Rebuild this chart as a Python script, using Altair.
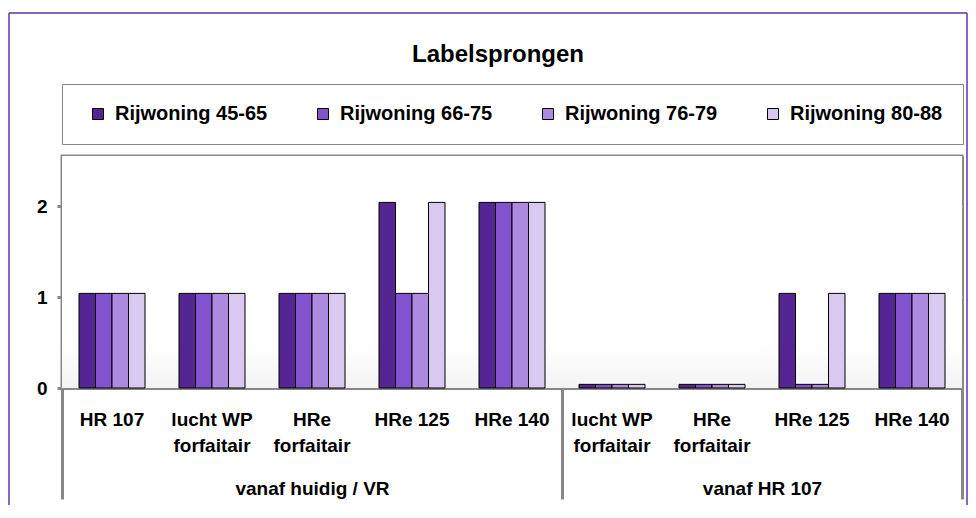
import altair as alt
import pandas as pd

chart_title = "Labelsprongen"
groups = ["vanaf huidig / VR", "vanaf HR 107"]
group_sizes = [5, 4]
categories = ["HR 107", "lucht WP|forfaitair", "HRe|forfaitair", "HRe 125", "HRe 140",
              "lucht WP|forfaitair", "HRe|forfaitair", "HRe 125", "HRe 140"]
series = ["Rijwoning 45-65", "Rijwoning 66-75", "Rijwoning 76-79", "Rijwoning 80-88"]
rij_45_65 = [1.04, 1.04, 1.04, 2.04, 2.04, 0.04, 0.04, 1.04, 1.04]
rij_66_75 = [1.04, 1.04, 1.04, 1.04, 2.04, 0.04, 0.04, 0.04, 1.04]
rij_76_79 = [1.04, 1.04, 1.04, 1.04, 2.04, 0.04, 0.04, 0.04, 1.04]
rij_80_88 = [1.04, 1.04, 1.04, 2.04, 2.04, 0.04, 0.04, 1.04, 1.04]
colors = ["#552594", "#8352CE", "#AD8ADF", "#D9C8EF"]
y_ticks = [0, 1, 2]

FONT = "Liberation Sans"
GRAY = "#878787"
GRID = "#c4c4c4"
PURPLE = "#6035A8"
W, H = 900, 232

cat_keys = [f"{i}#{c}" for i, c in enumerate(categories)]
rows = []
for s, vals in zip(series, [rij_45_65, rij_66_75, rij_76_79, rij_80_88]):
    for k, v in zip(cat_keys, vals):
        rows.append({"key": k, "series": s, "value": v})
df = pd.DataFrame(rows)

starts, mids = [], []
acc = 0
for n in group_sizes:
    starts.append(acc)
    mids.append(acc + n / 2)
    acc += n
gdf = pd.DataFrame({"group": groups, "mid": mids})
bounds_vals = starts + [acc]
mid_test = " || ".join(f"datum.value == {m}" for m in mids)
label_expr = "".join(f"datum.value == {m} ? '{g}' : " for m, g in zip(mids, groups)) + "''"
cond = {"condition": {"test": mid_test, "value": 0}, "value": 1}

one = pd.DataFrame({"k": [0]})

bg = alt.Chart(one).mark_rect(
    fill=alt.Gradient(gradient="linear", x1=0, x2=0, y1=0, y2=1,
                      stops=[alt.GradientStop(color="white", offset=0),
                             alt.GradientStop(color="white", offset=0.8),
                             alt.GradientStop(color="#f3f3f3", offset=1)])
).encode(x=alt.value(0), x2=alt.value(W), y=alt.value(0), y2=alt.value(H))

grp = alt.Chart(gdf).mark_point(opacity=0).encode(
    x=alt.X("mid:Q", title=None,
            scale=alt.Scale(domain=[0, acc], nice=False, zero=False),
            axis=alt.Axis(orient="bottom", values=sorted(bounds_vals + mids), labelExpr=label_expr,
                          grid=True, gridColor=GRAY, gridWidth=3, gridOpacity=cond,
                          ticks=True, tickSize=111, tickColor=GRAY, tickWidth=3, tickOpacity=cond,
                          domain=False, labelPadding=-20, labelFont=FONT, labelFontSize=19,
                          labelFontWeight="bold", labelColor="black", labelOverlap=False,
                          labelFlush=False)),
    y=alt.value(0),
)

bars = alt.Chart(df).mark_bar(stroke="black", strokeWidth=1).encode(
    x=alt.X("key:N", sort=cat_keys, title=None,
            scale=alt.Scale(paddingInner=0.34, paddingOuter=0.17),
            axis=alt.Axis(orient="bottom", labelExpr="split(split(datum.label, '#')[1], '|')",
                          labelAngle=0, ticks=False, domainColor=GRAY, domainWidth=3,
                          labelFont=FONT, labelFontWeight="bold", labelFontSize=19,
                          labelColor="black", labelPadding=22, labelLineHeight=26,
                          labelOverlap=False, grid=False)),
    xOffset=alt.XOffset("series:N", sort=series, scale=alt.Scale(paddingInner=0, paddingOuter=0)),
    y=alt.Y("value:Q", title=None, scale=alt.Scale(domain=[0, 2.55], nice=False),
            axis=alt.Axis(values=y_ticks, tickSize=5, tickColor=GRAY, tickWidth=3,
                          domainColor=GRAY, domainWidth=3, gridColor=GRID, gridWidth=2,
                          labelFont=FONT, labelFontWeight="bold", labelFontSize=19,
                          labelColor="black", labelPadding=10)),
    color=alt.Color("series:N", sort=series, scale=alt.Scale(domain=series, range=colors),
                    legend=alt.Legend(title=None, orient="none", legendX=0, legendY=-72,
                                      direction="horizontal", columnPadding=39, gridAlign="all",
                                      symbolType="square", symbolSize=121,
                                      symbolStrokeColor="black", symbolStrokeWidth=1,
                                      symbolOffset=6, labelFont=FONT, labelFontSize=20,
                                      labelFontWeight="bold", labelColor="black", labelOffset=7,
                                      labelLimit=300, padding=20, strokeColor=GRAY)),
)

frame_left = alt.Chart(one).mark_rule(color=PURPLE, strokeWidth=1.5).encode(
    x=alt.value(-53), y=alt.value(-143), y2=alt.value(349))
frame_top = alt.Chart(one).mark_rule(color=PURPLE, strokeWidth=1.5).encode(
    x=alt.value(-53), x2=alt.value(905), y=alt.value(-143))
frame_right = alt.Chart(one).mark_rule(color=PURPLE, strokeWidth=1.5).encode(
    x=alt.value(905), y=alt.value(-143), y2=alt.value(349))

chart = alt.layer(bg, grp, bars, frame_left, frame_top, frame_right).resolve_scale(
    x="independent"
).properties(
    width=W, height=H,
    padding={"left": 0, "top": 4, "right": 0, "bottom": 0},
    title=alt.TitleParams(chart_title, anchor="middle", frame="group", font=FONT, fontSize=24,
                          fontWeight="bold", color="black", baseline="alphabetic",
                          offset=0, dx=-14, dy=74),
).configure_view(stroke=GRAY, strokeWidth=3)

chart.save("out.html", embed_options={"renderer": "svg", "actions": False})
